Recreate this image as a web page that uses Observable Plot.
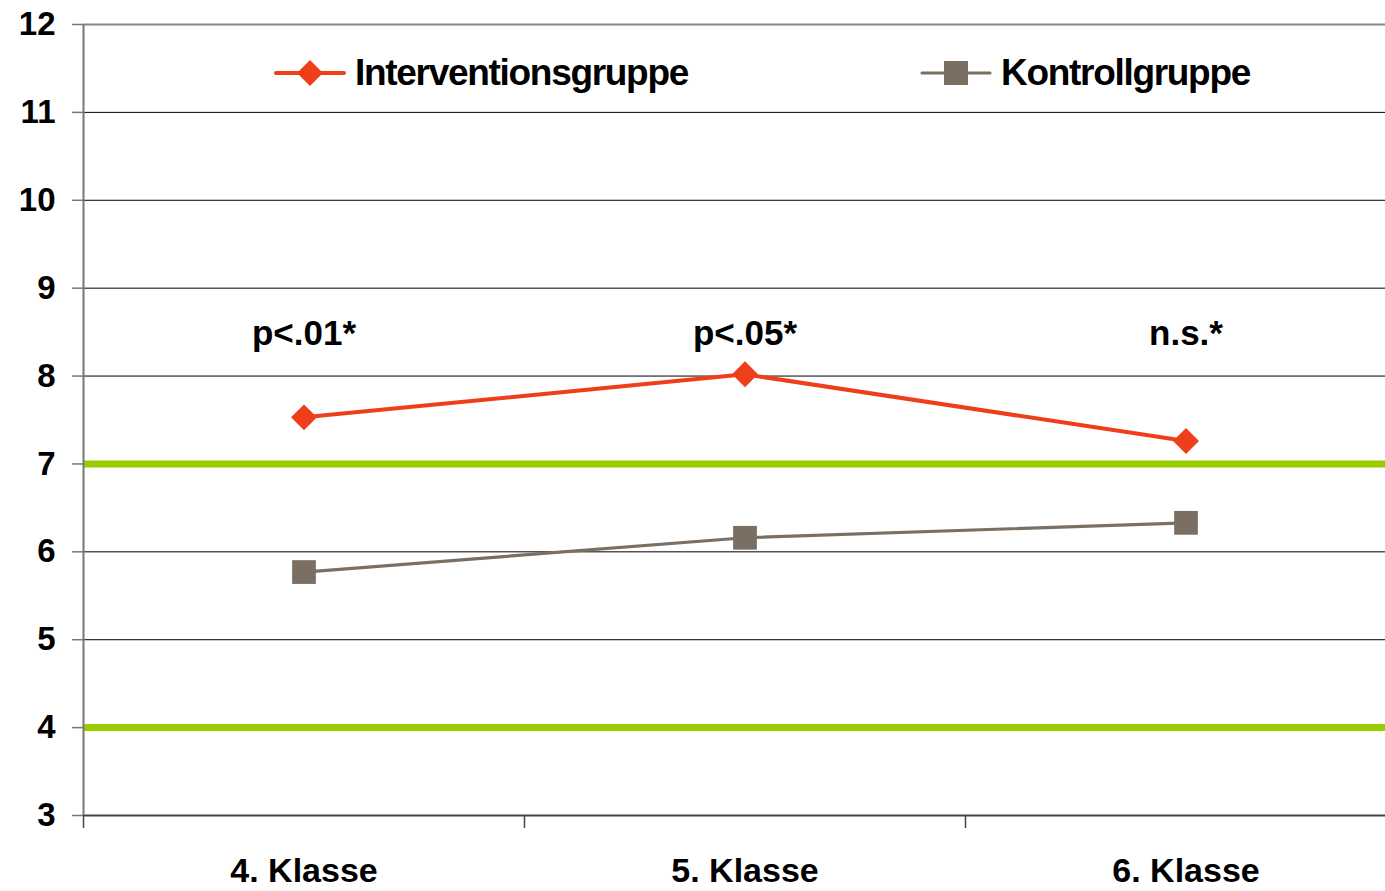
<!DOCTYPE html>
<html>
<head>
<meta charset="utf-8">
<script src="https://cdn.jsdelivr.net/npm/d3@7"></script>
<script src="https://cdn.jsdelivr.net/npm/@observablehq/plot@0.6"></script>
<style>
  html, body { margin: 0; padding: 0; background: #fff; overflow: hidden; }
  #wrap { position: relative; width: 1385px; height: 891px; overflow: hidden; }
  #wrap > svg { max-width: none !important; display: block; }
  .legend { position: absolute; display: flex; align-items: center; font-family: "Liberation Sans", Arial, sans-serif; font-weight: bold; font-size: 37px; letter-spacing: -1.3px; color: #000; }
  .legend svg { margin-right: 9px; }
</style>
</head>
<body>
<div id="wrap"></div>
<script>
const categories = ["4. Klasse", "5. Klasse", "6. Klasse"];
const intervention = [7.53, 8.02, 7.26];
const kontroll = [5.77, 6.16, 6.33];
const significance = ["p<.01*", "p<.05*", "n.s.*"];
const seriesNames = ["Interventionsgruppe", "Kontrollgruppe"];
const seriesColors = ["#ef3e1a", "#7b6f64"];
const yTicks = [3, 4, 5, 6, 7, 8, 9, 10, 11, 12];
const referenceLines = [4, 7];
const annotationLevel = 8.48;

const rows = categories.map((c, i) => ({pos: i + 0.5, cat: c, iv: intervention[i], kg: kontroll[i], sig: significance[i]}));
const bandEdges = categories.map((c, i) => i);

const chart = Plot.plot({
  width: 1406,
  height: 891,
  marginTop: 24,
  marginBottom: 76,
  marginLeft: 83,
  marginRight: 0,
  x: {domain: [0, categories.length]},
  y: {domain: [3, 12]},
  style: {fontFamily: "Liberation Sans, Arial, sans-serif", fontWeight: "bold", background: "#fff", color: "#000", maxWidth: "none"},
  marks: [
    Plot.ruleY(yTicks.filter(v => v > 3 && v < 12), {y: d => d, stroke: "#000", strokeWidth: 1}),
    Plot.ruleY([12], {stroke: "#888", strokeWidth: 2}),
    Plot.ruleY(referenceLines, {y: d => d, stroke: "#99cc00", strokeWidth: 7}),
    Plot.axisY({ticks: yTicks, tickSize: 11, tickPadding: 17, fontSize: 33, stroke: "#777", strokeWidth: 1.5, label: null}),
    Plot.axisX({ticks: bandEdges, tickSize: 13, tickFormat: () => "", stroke: "#444", strokeWidth: 1.5, label: null}),
    Plot.axisX({ticks: rows.map(r => r.pos), tickSize: 0, tickPadding: 42, fontSize: 34, tickFormat: (d) => categories[Math.round(d - 0.5)], label: null}),
    Plot.ruleY([3], {stroke: "#444", strokeWidth: 2}),
    Plot.ruleX([0], {y1: 3, y2: 12, stroke: "#777", strokeWidth: 2}),
    Plot.line(rows, {x: "pos", y: "kg", stroke: seriesColors[1], strokeWidth: 3.2}),
    Plot.dot(rows, {x: "pos", y: "kg", symbol: "square", r: 13.4, fill: seriesColors[1], stroke: null}),
    Plot.line(rows, {x: "pos", y: "iv", stroke: seriesColors[0], strokeWidth: 4}),
    Plot.dot(rows, {x: "pos", y: "iv", symbol: "diamond2", r: 11.7, fill: seriesColors[0], stroke: null}),
    Plot.text(rows, {x: "pos", y: () => annotationLevel, text: "sig", fontSize: 35, fontWeight: "bold", fill: "#000"})
  ]
});

const wrap = document.getElementById("wrap");
wrap.appendChild(chart);

function legendItem(name, color, symbol, left) {
  const div = document.createElement("div");
  div.className = "legend";
  div.style.left = left + "px";
  div.style.top = "52px";
  div.style.height = "42px";
  const marker = symbol === "diamond"
    ? `<polygon points="36,2 49,15 36,28 23,15" fill="${color}"/>`
    : `<rect x="24" y="3" width="24" height="24" fill="${color}"/>`;
  div.innerHTML = `<svg width="72" height="30" viewBox="0 0 72 30"><line x1="2" y1="15" x2="70" y2="15" stroke="${color}" stroke-width="${symbol === "diamond" ? 4 : 3}" stroke-linecap="round"/>${marker}</svg><span>${name}</span>`;
  wrap.appendChild(div);
}
legendItem(seriesNames[0], seriesColors[0], "diamond", 274);
legendItem(seriesNames[1], seriesColors[1], "square", 920);
</script>
</body>
</html>
